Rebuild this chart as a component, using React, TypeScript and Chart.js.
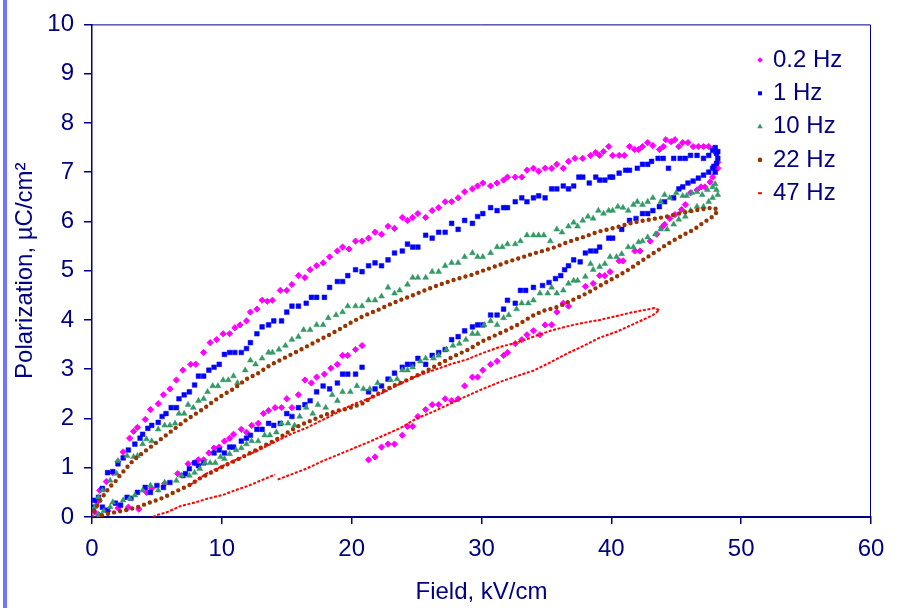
import React, { useEffect, useRef } from 'react';
import { Chart, registerables } from 'chart.js';

Chart.register(...registerables);

type P = [number, number];

const FONT = '"Liberation Sans", Arial, Helvetica, sans-serif';
const NAVY = '#000080';

const seriesNames = ['0.2 Hz', '1 Hz', '10 Hz', '22 Hz', '47 Hz'];
const seriesColors = ['#ff00ff', '#0000ff', '#339966', '#993300', '#ff0000'];
const xTickValues = [0, 10, 20, 30, 40, 50, 60];
const yTickValues = [0, 1, 2, 3, 4, 5, 6, 7, 8, 9, 10];
const xTitle = 'Field, kV/cm';
const yTitle = 'Polarization, µC/cm²';

// 0.2 Hz (diamonds)
const hz02: P[] = [
  [0.2,0.1],[0.4,0.3],[0.6,0.54],[1.1,0.72],[1.6,0.9],[2.0,1.12],[2.4,1.32],[2.9,1.6],[3.2,1.74],[3.5,1.82],
  [4.1,1.98],[4.5,2.18],[5.1,2.3],[5.5,2.48],[6.0,2.6],[6.5,2.78],[7.0,2.98],[7.6,3.1],[8.0,3.1],[8.6,3.34],
  [9.1,3.54],[9.6,3.6],[10.1,3.72],[10.6,3.72],[11.0,3.84],[11.4,3.9],[11.9,3.98],[12.2,4.16],[12.7,4.22],[13.1,4.4],
  [13.5,4.38],[13.9,4.4],[14.5,4.6],[15.0,4.6],[15.4,4.72],[15.9,4.9],[16.4,4.86],[16.8,5.02],[17.3,5.1],[17.8,5.16],
  [18.3,5.28],[18.9,5.4],[19.3,5.48],[19.8,5.44],[20.3,5.6],[20.8,5.6],[21.3,5.66],[21.8,5.78],[22.3,5.74],[22.8,5.9],
  [23.3,5.86],[23.9,6.08],[24.3,6.02],[24.7,6.08],[25.1,6.16],[25.7,6.08],[26.2,6.22],[26.7,6.28],[27.2,6.4],[27.7,6.4],
  [28.2,6.48],[28.7,6.6],[29.3,6.66],[29.7,6.72],[30.1,6.78],[30.7,6.72],[31.2,6.78],[31.7,6.84],[32.0,6.9],[32.6,6.9],
  [33.1,6.9],[33.5,7.04],[34.0,7.08],[34.4,7.02],[34.9,7.08],[35.4,7.08],[35.8,7.16],[36.3,7.08],[36.7,7.22],[37.2,7.28],
  [37.8,7.28],[38.4,7.34],[38.8,7.4],[39.1,7.34],[39.4,7.42],[39.8,7.52],[40.1,7.34],[40.6,7.34],[41.0,7.34],[41.4,7.52],
  [41.8,7.46],[42.1,7.46],[42.4,7.52],[42.8,7.6],[43.2,7.54],[43.7,7.46],[44.0,7.52],[44.2,7.66],[44.6,7.62],[44.9,7.66],
  [45.2,7.52],[45.5,7.6],[45.9,7.6],[46.3,7.52],[46.7,7.52],[47.1,7.52],[47.5,7.52],[47.9,7.48],[48.1,7.38],[48.2,7.2],
  [48.2,7.08],[47.8,6.9],[47.6,6.8],[47.2,6.7],[46.9,6.7],[46.6,6.64],[46.1,6.58],[45.7,6.34],[45.4,6.24],[44.9,6.14],
  [44.5,6.06],[44.1,5.94],[43.9,5.88],[43.5,5.74],[43.0,5.6],[42.2,5.4],[41.8,5.4],[40.9,5.2],[40.6,5.2],[39.9,4.98],
  [39.5,4.9],[39.1,4.9],[38.6,4.74],[38.0,4.68],[36.7,4.28],[36.3,4.34],[35.8,4.16],[35.4,3.9],[34.9,3.9],[34.5,3.7],
  [34.0,3.78],[33.5,3.7],[33.1,3.6],[32.6,3.52],[32.0,3.34],[31.7,3.28],[31.2,3.16],[30.7,3.1],[30.1,2.98],[29.7,2.84],
  [29.3,2.84],[28.7,2.66],[28.2,2.4],[27.7,2.36],[27.2,2.4],[26.7,2.28],[26.2,2.28],[25.7,2.18],[25.1,2.04],[24.7,1.84],
  [24.3,1.84],[23.9,1.66],[23.3,1.48],[22.8,1.48],[22.3,1.42],[21.8,1.22],[21.3,1.16],
  [0.5,0.05],[1.2,0.12],[2.0,0.18],[2.8,0.2],[3.6,0.16],[4.2,0.5],[4.6,0.58],[5.6,0.68],[6.6,0.88],[7.4,1.08],
  [7.9,1.1],[8.2,1.16],[8.6,1.16],[9.0,1.3],[9.4,1.4],[9.8,1.42],[10.2,1.54],[10.6,1.6],[10.9,1.68],[11.5,1.78],
  [11.9,1.72],[12.3,1.86],[12.8,1.9],[13.2,2.1],[13.6,2.16],[14.1,2.22],[14.6,2.22],[15.0,2.4],[15.4,2.22],[15.9,2.48],
  [16.4,2.78],[16.9,2.72],[17.3,2.84],[17.9,2.9],[18.4,3.02],[18.9,3.1],[19.3,3.28],[19.7,3.28],[20.3,3.4],[20.8,3.48]
];

// 1 Hz (squares)
const hz1: P[] = [
  [0.1,0.2],[0.2,0.34],[0.5,0.4],[0.8,0.58],[1.2,0.9],[1.6,0.92],[2.0,1.08],[2.4,1.2],[2.8,1.36],[3.3,1.48],
  [3.7,1.6],[3.9,1.68],[4.3,1.8],[4.6,1.86],[5.1,1.92],[5.4,2.04],[5.7,2.1],[6.1,2.22],[6.5,2.22],[6.7,2.4],
  [7.1,2.48],[7.5,2.54],[7.9,2.68],[8.2,2.86],[8.6,2.86],[9.0,2.98],[9.4,3.04],[9.8,3.1],[10.2,3.3],[10.6,3.34],
  [11.0,3.34],[11.5,3.34],[11.9,3.42],[12.2,3.54],[12.7,3.72],[13.1,3.86],[13.6,3.9],[14.0,3.98],[14.6,3.98],[15.0,4.16],
  [15.4,4.28],[15.9,4.28],[16.5,4.34],[16.9,4.46],[17.3,4.46],[17.9,4.46],[18.3,4.66],[18.9,4.78],[19.3,4.78],[19.7,4.9],
  [20.3,5.02],[20.8,4.98],[21.3,5.1],[21.8,5.16],[22.3,5.1],[22.8,5.22],[23.3,5.36],[23.9,5.4],[24.3,5.54],[24.7,5.48],
  [25.1,5.48],[25.7,5.72],[26.2,5.66],[26.7,5.78],[27.2,5.78],[27.7,5.96],[28.2,5.84],[28.7,6.02],[29.3,5.96],[29.7,6.1],
  [30.1,6.16],[30.7,6.28],[31.2,6.22],[31.7,6.28],[32.0,6.28],[32.6,6.4],[33.1,6.48],[33.5,6.4],[34.0,6.48],[34.4,6.52],
  [34.9,6.48],[35.4,6.66],[35.8,6.66],[36.3,6.72],[36.7,6.66],[37.1,6.72],[37.5,6.9],[37.8,6.9],[38.3,6.78],[38.8,6.9],
  [39.1,6.84],[39.5,6.84],[39.9,6.9],[40.1,6.9],[40.6,6.98],[41.1,7.04],[41.4,7.04],[42.0,7.08],[42.4,7.16],[42.8,7.16],
  [43.1,7.22],[43.6,7.28],[44.0,7.28],[44.4,7.08],[44.8,7.28],[45.3,7.28],[45.7,7.28],[46.1,7.34],[46.6,7.34],[47.1,7.28],
  [47.5,7.34],[47.8,7.44],[48.0,7.5],[48.2,7.42],[48.1,7.38],[48.2,7.28],[48.1,7.18],[47.9,7.12],[48.0,7.0],
  [47.8,7.08],[47.5,7.0],[47.1,6.94],[46.7,6.88],[46.3,6.82],[45.9,6.78],[45.5,6.7],[45.2,6.66],[44.8,6.48],[44.1,6.4],
  [43.7,6.3],[43.2,6.22],[42.8,6.16],[42.4,6.16],[41.9,6.06],[41.4,6.02],[40.8,5.84],[40.1,5.66],[39.8,5.66],[39.1,5.48],
  [38.8,5.4],[38.4,5.4],[38.0,5.36],[37.6,5.18],[37.1,5.22],[36.7,5.1],[36.4,5.02],[36.1,4.9],[35.7,4.84],[35.2,4.76],
  [34.7,4.7],[34.0,4.66],[33.4,4.6],[33.0,4.6],[32.6,4.34],[32.0,4.4],[31.7,4.22],[31.2,4.1],[30.7,4.1],[30.1,3.9],
  [29.7,3.9],[29.3,3.86],[28.7,3.78],[28.2,3.66],[27.7,3.6],[27.2,3.4],[26.7,3.34],[26.2,3.28],[25.7,3.1],[25.1,3.22],
  [24.7,3.1],[24.3,3.1],[23.9,3.04],[23.3,2.92],[22.8,2.8],[22.3,2.66],[21.8,2.6],[21.3,2.54],
  [0.8,0.2],[1.2,0.14],[1.8,0.28],[2.2,0.24],[2.7,0.4],[3.0,0.38],[3.5,0.5],[4.1,0.6],[4.5,0.5],[5.0,0.64],
  [5.5,0.6],[6.0,0.7],[7.0,0.84],[7.2,0.88],[7.5,0.98],[7.9,1.1],[8.2,1.04],[8.6,1.1],[9.4,1.3],[9.8,1.36],
  [10.2,1.3],[10.6,1.42],[10.9,1.42],[11.5,1.54],[11.9,1.6],[12.2,1.66],[12.7,1.78],[13.1,1.78],[13.6,1.9],[14.0,1.86],
  [14.5,1.9],[15.0,2.1],[15.4,2.04],[15.9,2.22],[16.4,2.28],[16.8,2.36],[17.3,2.54],[17.8,2.66],[18.3,2.6],[18.9,2.72],
  [19.3,2.9],[19.7,2.9],[20.3,2.9],[20.8,3.04]
];

// 10 Hz (triangles)
const hz10: P[] = [
  [0.2,0.2],[0.5,0.4],[0.8,0.54],[1.4,0.74],[1.9,0.88],[2.0,1.14],[2.7,1.24],[3.2,1.22],[3.5,1.24],[3.9,1.48],
  [4.2,1.58],[4.6,1.54],[5.1,1.78],[5.6,1.86],[6.0,1.86],[6.4,1.9],[6.7,2.1],[7.1,2.1],[7.4,2.28],[7.8,2.22],
  [8.2,2.36],[8.6,2.4],[8.9,2.54],[9.3,2.66],[9.7,2.66],[10.1,2.78],[10.5,2.78],[10.9,2.86],[11.2,2.72],[11.8,2.98],
  [12.2,3.18],[12.6,3.1],[13.1,3.22],[13.6,3.34],[13.9,3.34],[14.4,3.4],[14.9,3.48],[15.4,3.6],[15.9,3.66],[16.3,3.8],
  [16.8,3.8],[17.3,3.9],[17.8,3.9],[18.2,4.04],[18.8,4.1],[19.3,4.16],[19.7,4.28],[20.3,4.28],[20.8,4.28],[21.3,4.4],
  [21.8,4.4],[22.3,4.48],[22.8,4.66],[23.3,4.54],[23.7,4.6],[24.3,4.72],[24.7,4.86],[25.1,4.86],[25.7,4.86],[26.2,4.98],
  [26.7,4.98],[27.2,5.1],[27.7,5.16],[28.2,5.16],[28.7,5.28],[29.3,5.36],[29.7,5.28],[30.1,5.28],[30.7,5.36],[31.2,5.48],
  [31.6,5.48],[32.0,5.54],[32.6,5.54],[33.0,5.6],[33.5,5.72],[34.0,5.72],[34.4,5.72],[34.8,5.72],[35.3,5.6],[35.8,5.84],
  [36.2,5.78],[36.7,5.9],[37.1,5.98],[37.4,5.9],[37.8,6.02],[38.2,6.1],[38.6,6.06],[39.0,6.22],[39.4,6.16],[39.8,6.22],
  [40.1,6.22],[40.5,6.3],[40.9,6.28],[41.3,6.22],[41.7,6.34],[42.0,6.4],[42.4,6.34],[42.8,6.4],[43.2,6.48],[43.8,6.4],
  [44.1,6.54],[44.5,6.48],[45.0,6.58],[45.5,6.52],[45.8,6.52],[46.2,6.58],[46.6,6.6],[47.0,6.54],[47.4,6.64],[47.8,6.7],
  [48.0,6.76],[48.1,6.64],[48.2,6.54],
  [47.8,6.48],[47.5,6.4],[47.1,6.3],[46.6,6.3],[46.1,6.22],[45.7,6.1],[45.2,6.04],[44.8,5.94],[44.3,5.84],[43.8,5.84],
  [43.4,5.74],[42.8,5.68],[42.4,5.6],[42.1,5.58],[41.7,5.48],[41.3,5.48],[40.8,5.34],[40.4,5.28],[39.9,5.28],[39.5,5.14],
  [39.1,5.08],[38.6,5.02],[38.4,5.14],[38.0,4.88],[37.4,4.8],[37.1,4.8],[36.7,4.74],[36.3,4.6],[35.8,4.54],[35.4,4.66],
  [35.1,4.54],[34.5,4.54],[34.0,4.4],[33.6,4.34],[33.1,4.34],[32.7,4.22],[32.1,4.1],[31.7,4.04],[31.2,3.9],[30.7,3.98],
  [30.2,3.9],[29.7,3.72],[29.3,3.72],[28.8,3.6],[28.3,3.52],[27.8,3.48],[27.3,3.4],[26.7,3.28],[26.3,3.22],[25.7,3.22],
  [25.3,3.16],[24.7,3.04],[24.3,2.98],[23.9,2.98],[23.5,2.8],[23.0,2.78],[22.0,2.72],[21.4,2.6],[20.9,2.6],[20.4,2.66],
  [19.9,2.54],[19.3,2.54],[18.9,2.36],[18.5,2.48],[18.0,2.22],[17.4,2.28],[17.0,2.1],[16.5,2.22],[16.0,2.04],[15.6,1.86],
  [15.1,1.9],[14.6,1.9],[14.2,1.72],[13.7,1.66],[13.3,1.66],[12.8,1.54],[12.3,1.54],[11.9,1.48],[11.5,1.4],[11.1,1.36],
  [10.6,1.28],[10.2,1.18],[9.9,1.22],[9.5,1.1],[9.1,1.1],[8.7,1.1],[8.3,0.98],[7.9,0.9],[7.5,0.84],[6.9,0.84],
  [6.5,0.74],[5.6,0.7],[5.1,0.54],[4.5,0.64],[3.9,0.54],[3.3,0.44],[2.9,0.38],[2.4,0.34],[1.6,0.3],[1.4,0.2],
  [0.9,0.12],[0.5,0.05]
];

// 22 Hz (round dots, ordered around the loop)
const hz22: P[] = [
  [0.0,0.0],[0.2,0.14],[0.6,0.32],[1.0,0.48],[1.4,0.62],[1.8,0.72],[2.2,0.86],[2.6,0.98],[3.0,1.1],[3.5,1.22],
  [4.1,1.34],[4.6,1.44],[5.2,1.56],[5.8,1.68],[6.5,1.82],[7.3,1.98],[7.9,2.08],[8.6,2.2],[9.3,2.34],[10.1,2.48],
  [10.9,2.6],[11.9,2.8],[12.8,2.92],[13.7,3.08],[14.6,3.2],[15.5,3.32],[16.6,3.47],[17.4,3.58],[18.3,3.7],[19.0,3.8],
  [19.9,3.94],[20.9,4.08],[22.0,4.2],[22.8,4.3],[23.7,4.4],[24.7,4.5],[25.8,4.62],[26.8,4.72],[28.2,4.84],[29.3,4.92],
  [30.1,5.0],[31.2,5.1],[32.0,5.18],[33.0,5.26],[33.9,5.34],[34.7,5.4],[35.7,5.48],[36.6,5.58],[37.8,5.68],[39.1,5.8],
  [40.4,5.88],[41.7,5.98],[43.0,6.04],[44.3,6.1],[45.5,6.18],[46.8,6.24],[47.8,6.28],[48.2,6.24],[48.0,6.14],[47.6,6.06],
  [47.1,5.98],[46.6,5.88],[46.1,5.8],[45.5,5.72],[45.1,5.66],[44.3,5.54],[43.5,5.4],[42.8,5.28],[42.0,5.14],[41.2,5.0],
  [40.4,4.88],[39.7,4.78],[38.9,4.66],[38.1,4.54],[37.3,4.44],[36.5,4.34],[35.8,4.26],[34.7,4.18],[33.9,4.08],[32.9,3.92],
  [32.0,3.8],[31.0,3.68],[30.0,3.56],[29.0,3.4],[28.0,3.28],[27.0,3.14],[26.0,3.0],[25.1,2.88],[24.1,2.76],[23.2,2.66],
  [22.3,2.54],[21.6,2.44],[20.8,2.3],[19.7,2.2],[18.9,2.16],[17.8,2.06],[16.9,1.96],[16.0,1.86],[15.2,1.74],[14.4,1.6],
  [13.5,1.48],[12.8,1.38],[11.9,1.26],[11.0,1.14],[10.2,1.04],[9.3,0.92],[8.4,0.8],[7.6,0.66],[6.8,0.56],[6.0,0.46],
  [5.2,0.36],[4.3,0.28],[3.5,0.2],[2.6,0.14],[1.8,0.1],[1.0,0.05],[0.4,0.02]
];

// 47 Hz (short dashes, ordered; first piece is a separate trace)
const hz47a: P[] = [
  [4.7,0.0],[5.0,0.04],[5.8,0.1],[6.8,0.22],[8.0,0.3],[9.0,0.38],[10.1,0.45],[11.0,0.54],[12.0,0.63],[13.0,0.74],[14.1,0.86]
];
const hz47b: P[] = [
  [14.3,0.76],[15.3,0.86],[16.5,0.98],[17.8,1.14],[19.1,1.28],[20.2,1.4],[21.3,1.52],[22.5,1.66],[23.7,1.8],[25.0,2.0],
  [26.3,2.14],[27.6,2.3],[28.9,2.46],[30.1,2.6],[31.4,2.74],[32.7,2.86],[34.0,2.97],[35.3,3.14],[36.6,3.32],[37.9,3.48],
  [39.1,3.64],[40.4,3.76],[41.4,3.88],[42.4,4.0],[43.2,4.1],[43.7,4.2],
  [43.3,4.24],[42.5,4.2],[41.7,4.16],[40.4,4.08],[39.1,4.0],[37.8,3.94],[36.6,3.87],[35.3,3.78],[34.0,3.66],[32.7,3.54],
  [31.4,3.45],[30.1,3.33],[28.9,3.2],[27.6,3.1],[26.3,2.98],[25.0,2.86],[23.7,2.7],[22.4,2.52],[21.3,2.4],[20.4,2.32],
  [19.6,2.22],[18.6,2.08],[17.6,1.95],[16.6,1.82],[15.3,1.68],[13.9,1.5],[12.7,1.34],[11.4,1.2],[10.1,1.04],[8.8,0.88],[7.5,0.64]
];

const toXY = (arr: P[]) => arr.map(([x, y]) => ({ x, y }));

function drawMarker(ctx: CanvasRenderingContext2D, i: number, x: number, y: number) {
  const c = seriesColors[i];
  ctx.save();
  ctx.fillStyle = c;
  ctx.strokeStyle = c;
  ctx.beginPath();
  if (i === 0) {
    const r = 2.8;
    ctx.moveTo(x, y - r); ctx.lineTo(x + r, y); ctx.lineTo(x, y + r); ctx.lineTo(x - r, y); ctx.closePath();
    ctx.fill();
  } else if (i === 1) {
    ctx.fillRect(x - 2, y - 2, 4, 4);
  } else if (i === 2) {
    const r = 3.2;
    ctx.moveTo(x, y - r); ctx.lineTo(x + r * 0.87, y + r * 0.5); ctx.lineTo(x - r * 0.87, y + r * 0.5); ctx.closePath();
    ctx.fill();
  } else if (i === 3) {
    ctx.arc(x, y, 2.3, 0, Math.PI * 2);
    ctx.fill();
  } else {
    ctx.fillRect(x - 2, y - 1, 4, 2);
  }
  ctx.restore();
}

const decorPlugin = {
  id: 'decor',
  beforeDraw(chart: any) {
    const ctx = chart.ctx as CanvasRenderingContext2D;
    ctx.save();
    ctx.fillStyle = '#ffffff';
    ctx.fillRect(0, 0, chart.width, chart.height);
    ctx.fillStyle = '#7373ff';
    ctx.fillRect(3, 0, 4, chart.height);
    ctx.restore();
  },
  afterDraw(chart: any) {
    const ctx = chart.ctx as CanvasRenderingContext2D;
    const a = chart.chartArea;
    ctx.save();
    ctx.strokeStyle = NAVY;
    ctx.lineWidth = 1;
    ctx.beginPath();
    ctx.moveTo(a.left, a.top + 0.5);
    ctx.lineTo(a.right - 0.5, a.top + 0.5);
    ctx.lineTo(a.right - 0.5, a.bottom);
    ctx.stroke();
    ctx.font = `24px ${FONT}`;
    ctx.fillStyle = NAVY;
    ctx.textBaseline = 'middle';
    ctx.textAlign = 'left';
    seriesNames.forEach((name, i) => {
      const y = 60 + i * 33.3;
      drawMarker(ctx, i, 760, y);
      ctx.fillText(name, 773, y);
    });
    ctx.restore();
  }
};

export default function App() {
  const ref = useRef<HTMLCanvasElement | null>(null);

  useEffect(() => {
    document.body.style.margin = '0';
    const canvas = ref.current;
    if (!canvas) return;
    Chart.defaults.font.family = FONT;
    const chart = new Chart(canvas, {
      type: 'scatter',
      data: {
        datasets: [
          {
            label: seriesNames[0], data: toXY(hz02), order: 4,
            pointStyle: 'rectRot', pointRadius: 3.1, pointBorderWidth: 1,
            backgroundColor: seriesColors[0], borderColor: seriesColors[0], showLine: false
          },
          {
            label: seriesNames[1], data: toXY(hz1), order: 3,
            pointStyle: 'rect', pointRadius: 3.3, pointBorderWidth: 0.5,
            backgroundColor: seriesColors[1], borderColor: seriesColors[1], showLine: false
          },
          {
            label: seriesNames[2], data: toXY(hz10), order: 2,
            pointStyle: 'triangle', pointRadius: 3.4, pointBorderWidth: 0.5,
            backgroundColor: seriesColors[2], borderColor: seriesColors[2], showLine: false
          },
          {
            label: seriesNames[3], data: toXY(hz22), order: 1,
            showLine: true, pointRadius: 0, borderColor: seriesColors[3], backgroundColor: seriesColors[3],
            borderWidth: 4.4, borderDash: [0, 6.2], borderCapStyle: 'round', tension: 0
          } as any,
          {
            label: seriesNames[4], data: [...toXY(hz47a), { x: 14.2, y: null }, ...toXY(hz47b)], order: 0,
            showLine: true, spanGaps: false, pointRadius: 0, borderColor: seriesColors[4], backgroundColor: seriesColors[4],
            borderWidth: 2, borderDash: [3, 1.6], borderCapStyle: 'butt', tension: 0
          } as any
        ]
      },
      options: {
        animation: false,
        responsive: false,
        devicePixelRatio: 1,
        layout: { padding: { top: 17, right: 31, left: 0, bottom: 0 } },
        plugins: { legend: { display: false }, tooltip: { enabled: false } },
        scales: {
          x: {
            type: 'linear', min: 0, max: 60,
            afterFit: (s: any) => { s.height = 91; },
            afterBuildTicks: (s: any) => { s.ticks = xTickValues.map(v => ({ value: v })); },
            ticks: { color: NAVY, font: { size: 24, family: FONT }, padding: 11, maxRotation: 0 },
            grid: { drawOnChartArea: false, drawTicks: true, tickLength: 7, color: NAVY, lineWidth: 1.5 },
            border: { display: true, color: NAVY, width: 2 },
            title: { display: true, text: xTitle, color: NAVY, font: { size: 24, family: FONT }, padding: { top: 0, bottom: 1 } }
          },
          y: {
            type: 'linear', min: 0, max: 10,
            afterFit: (s: any) => { s.width = 92; },
            afterBuildTicks: (s: any) => { s.ticks = yTickValues.map(v => ({ value: v })); },
            ticks: { color: NAVY, font: { size: 24, family: FONT }, padding: 10 },
            grid: { drawOnChartArea: false, drawTicks: true, tickLength: 8, color: NAVY, lineWidth: 1.5 },
            border: { display: true, color: NAVY, width: 1.5 },
            title: { display: true, text: yTitle, color: NAVY, font: { size: 24, family: FONT }, padding: { top: 11, bottom: 0 } }
          }
        }
      } as any,
      plugins: [decorPlugin]
    });
    return () => chart.destroy();
  }, []);

  return (
    <div style={{ position: 'relative', width: 902, height: 608 }}>
      <canvas ref={ref} width={902} height={608} style={{ display: 'block', width: 902, height: 608 }} />
    </div>
  );
}
